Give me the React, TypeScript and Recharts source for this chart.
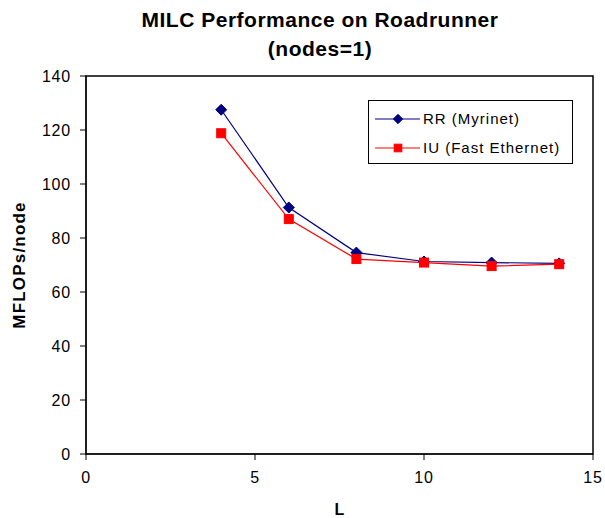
import React from "react"
import { LineChart, Line, XAxis, YAxis, ReferenceArea, Legend } from "recharts"

const lValues = [4, 6, 8, 10, 12, 14]
const rrMyrinet = [127.5, 91.3, 74.6, 71.3, 70.9, 70.6]
const iuFastEthernet = [118.8, 87.0, 72.2, 70.9, 69.6, 70.3]
const xTicks = [0, 5, 10, 15]
const yTicks = [0, 20, 40, 60, 80, 100, 120, 140]

const series = [
  { key: "rr", name: "RR (Myrinet)", color: "#000080", shape: "diamond" },
  { key: "iu", name: "IU (Fast Ethernet)", color: "#FF0000", shape: "square" },
]

const data = lValues.map((l, i) => ({ L: l, rr: rrMyrinet[i], iu: iuFastEthernet[i] }))

const font = "'Liberation Sans', Arial, sans-serif"
const tickStyle = { fill: "#000", fontSize: 16, fontFamily: font, letterSpacing: 0.8 }

const Marker = ({ cx, cy, shape, color, size = 1 }: any) => {
  if (cx == null || cy == null) return null
  if (shape === "diamond") {
    const s = 5.5 * size
    return <polygon points={`${cx},${cy - s} ${cx + s},${cy} ${cx},${cy + s} ${cx - s},${cy}`} fill={color} stroke={color} />
  }
  const h = 4.5 * size
  return <rect x={cx - h} y={cy - h} width={h * 2} height={h * 2} fill={color} stroke={color} />
}

const LegendBox = () => (
  <div style={{ boxSizing: "border-box", width: 205, height: 64, border: "1.5px solid #000", background: "#fff", padding: "3px 0 0 5px", fontFamily: font, fontSize: 15, letterSpacing: 1, color: "#000" }}>
    {series.map((s) => (
      <div key={s.key} style={{ display: "flex", alignItems: "center", height: 29 }}>
        <svg width={48} height={14}>
          <line x1={1} y1={7} x2={46} y2={7} stroke={s.color} strokeWidth={1} />
          <Marker cx={24} cy={7} shape={s.shape} color={s.color} size={0.85} />
        </svg>
        <span style={{ marginLeft: 1 }}>{s.name}</span>
      </div>
    ))}
  </div>
)

export default function App() {
  return (
    <div style={{ position: "absolute", left: 0, top: 0, width: 605, height: 518, background: "#fff" }}>
      <div style={{ position: "absolute", left: 0, top: 5, width: 640, textAlign: "center", fontFamily: font, fontWeight: "bold", fontSize: 21, letterSpacing: 0.5, lineHeight: "29px", color: "#000" }}>
        MILC Performance on Roadrunner
        <br />
        (nodes=1)
      </div>
      <LineChart width={605} height={518} data={data} margin={{ top: 76, right: 12, bottom: 0, left: 0 }}>
        <XAxis
          dataKey="L"
          type="number"
          domain={[0, 15]}
          ticks={xTicks}
          height={64}
          tickSize={6}
          tickMargin={12}
          stroke="#000"
          tick={tickStyle}
          label={({ viewBox }: any) => (
            <text x={viewBox.x + viewBox.width / 2} y={515} textAnchor="middle" fontFamily={font} fontWeight="bold" fontSize={16} fill="#000">
              L
            </text>
          )}
        />
        <YAxis
          type="number"
          domain={[0, 140]}
          ticks={yTicks}
          width={86}
          tickSize={6}
          tickMargin={9}
          stroke="#000"
          tick={tickStyle}
          label={({ viewBox }: any) => {
            const cy = viewBox.y + viewBox.height / 2
            return (
              <text x={19} y={cy} transform={`rotate(-90, 19, ${cy})`} textAnchor="middle" dominantBaseline="central" fontFamily={font} fontWeight="bold" fontSize={17} letterSpacing={1.2} fill="#000">
                MFLOPs/node
              </text>
            )
          }}
        />
        <ReferenceArea x1={0} x2={15} y1={0} y2={140} fill="none" stroke="#000" strokeWidth={1.5} />
        {series.map((s) => (
          <Line
            key={s.key}
            dataKey={s.key}
            name={s.name}
            stroke={s.color}
            strokeWidth={1.2}
            isAnimationActive={false}
            dot={(p: any) => <Marker key={`${s.key}-${p.index}`} cx={p.cx} cy={p.cy} shape={s.shape} color={s.color} />}
            activeDot={false}
          />
        ))}
        <Legend
          layout="horizontal"
          verticalAlign="middle"
          content={() => <LegendBox />}
          wrapperStyle={{ top: 100, left: 368, width: 205, height: 64 }}
        />
      </LineChart>
    </div>
  )
}
